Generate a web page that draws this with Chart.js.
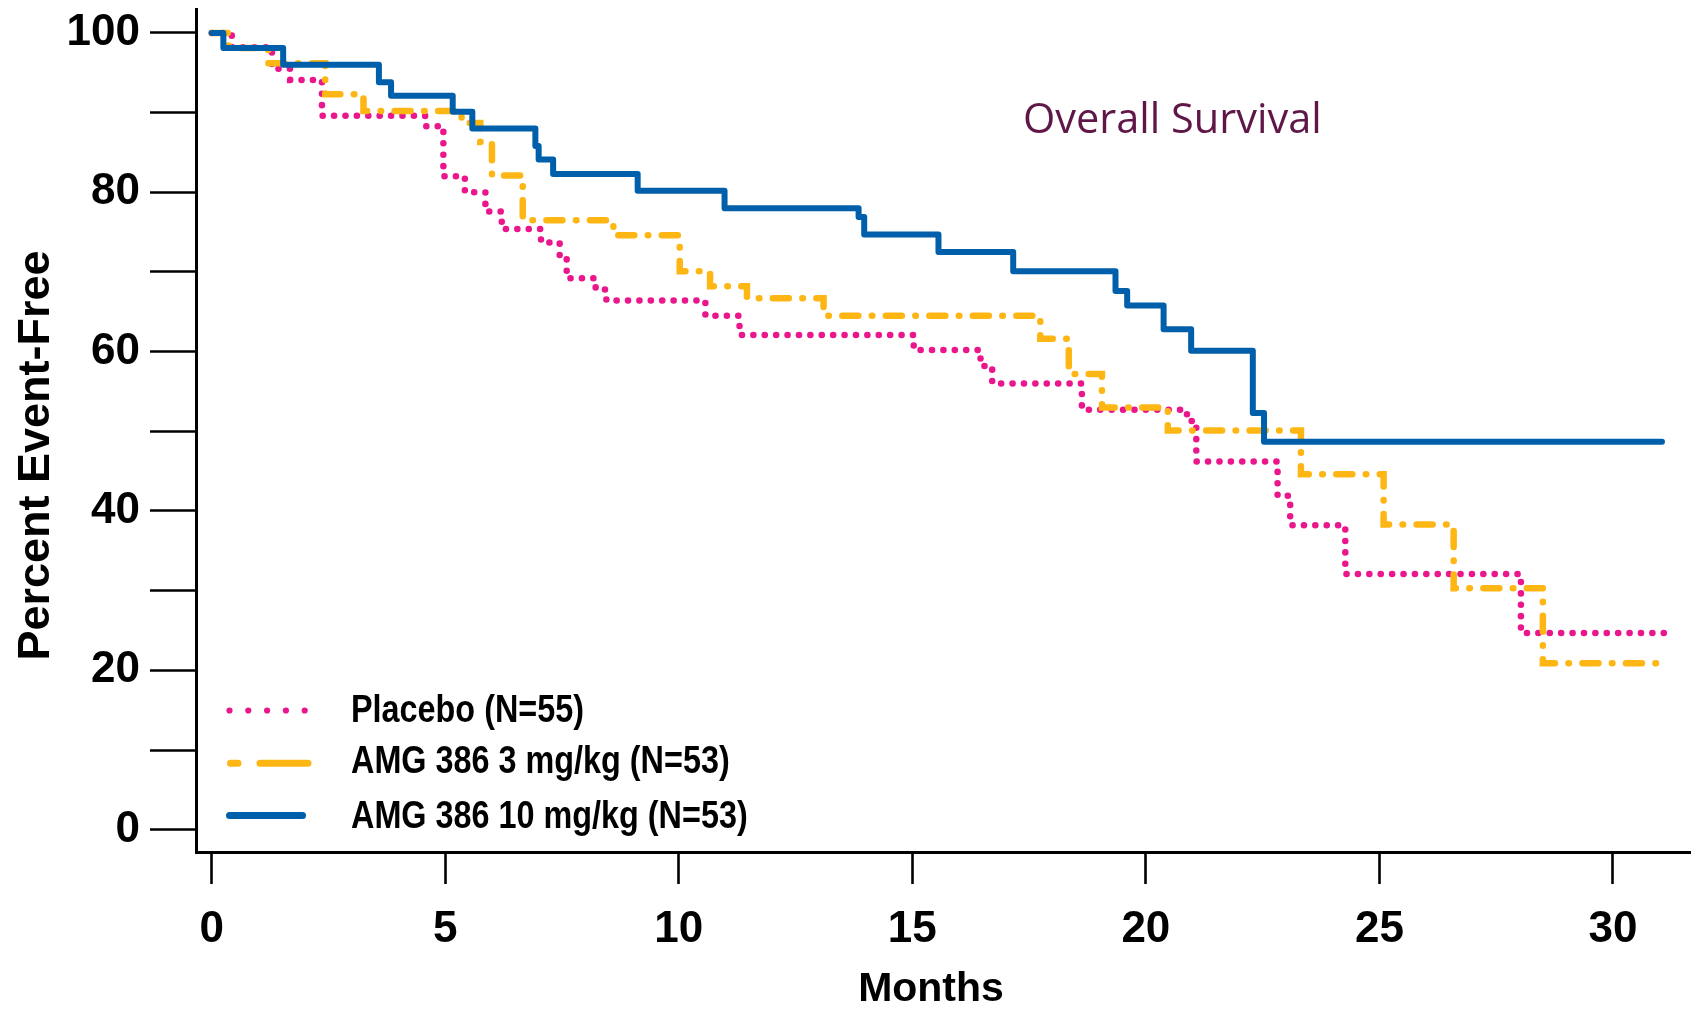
<!DOCTYPE html>
<html>
<head>
<meta charset="utf-8">
<script src="https://cdn.jsdelivr.net/npm/chart.js@4.4.1/dist/chart.umd.min.js"></script>
<style>
  html, body { margin: 0; padding: 0; background: #ffffff; }
  #wrap { width: 1697px; height: 1012px; }
</style>
</head>
<body>
<div id="wrap"><canvas id="c" width="1697" height="1012"></canvas></div>
<script>
// ---- Data (months, percent event-free) ----
const seriesNames = ['Placebo (N=55)', 'AMG 386 3 mg/kg (N=53)', 'AMG 386 10 mg/kg (N=53)'];

const placeboMonths = [0, 0.43, 1.29, 1.68, 2.36, 4.57, 4.96, 5.42, 5.86, 6.21, 7.05, 7.45, 7.6, 8.22, 8.45, 10.57, 11.3, 15.03, 16.46, 16.71, 18.63, 20.88, 21.08, 22.82, 23.09, 24.27, 28.03, 31.16];
const placeboPct    = [100, 98.2, 95.5, 94.1, 89.6, 88.3, 82.0, 80.0, 77.6, 75.4, 73.7, 71.6, 69.2, 67.8, 66.4, 64.5, 62.1, 60.2, 58.2, 56.0, 52.7, 51.3, 46.2, 41.9, 38.2, 32.1, 24.7, 24.7];

const amg3Months = [0, 0.36, 1.21, 2.43, 3.25, 5.35, 5.75, 6.0, 6.66, 8.6, 10.02, 10.67, 11.46, 13.1, 17.74, 18.35, 19.06, 20.47, 23.32, 25.09, 26.59, 28.5, 31.11];
const amg3Pct    = [100, 98.1, 96.2, 92.3, 90.2, 88.7, 86.3, 82.1, 76.5, 74.6, 70.1, 68.2, 66.7, 64.5, 61.6, 57.2, 53.0, 50.1, 44.6, 38.3, 30.3, 20.9, 20.9];

const amg10Months = [0, 0.25, 1.53, 3.58, 3.84, 5.16, 5.58, 6.93, 7.0, 7.31, 9.12, 10.98, 13.85, 13.97, 15.56, 17.16, 19.35, 19.6, 20.38, 20.97, 22.29, 22.53, 31.05];
const amg10Pct    = [100, 98.1, 96.0, 93.8, 92.1, 90.1, 88.0, 85.8, 84.1, 82.3, 80.2, 78.0, 76.9, 74.7, 72.5, 70.1, 67.6, 65.8, 62.8, 60.1, 52.3, 48.7, 48.7];

const xTickValues = [0, 5, 10, 15, 20, 25, 30];
const yTickValues = [0, 10, 20, 30, 40, 50, 60, 70, 80, 90, 100];
const yLabelledTicks = [0, 20, 40, 60, 80, 100];

const xTitle = 'Months';
const yTitle = 'Percent Event-Free';
const chartNote = 'Overall Survival';

// ---- styling ----
const PINK = '#ea168c';
const ORANGE = '#fdb614';
const BLUE = '#005fab';

function toPoints(xs, ys) { return xs.map((x, i) => ({ x: x, y: ys[i] })); }

const overlayPlugin = {
  id: 'overlay',
  afterDraw(chart) {
    const ctx = chart.ctx;
    ctx.save();
    // y axis title
    ctx.fillStyle = '#000';
    ctx.font = 'bold 45px "Liberation Sans", Arial, sans-serif';
    ctx.textAlign = 'center';
    ctx.textBaseline = 'alphabetic';
    ctx.save();
    ctx.translate(49, 455.5);
    ctx.rotate(-Math.PI / 2);
    ctx.fillText(yTitle, 0, 0);
    ctx.restore();
    // x axis title
    ctx.font = 'bold 41px "Liberation Sans", Arial, sans-serif';
    ctx.fillText(xTitle, 931, 1001);
    // note
    ctx.fillStyle = '#5e1747';
    ctx.font = '41.5px "Open Sans", sans-serif';
    ctx.textAlign = 'left';
    ctx.fillText(chartNote, 1023, 133);

    // legend
    const rows = [
      { y: 710.5, base: 721.7, kind: 'dot' },
      { y: 763.3, base: 773.3, kind: 'dash' },
      { y: 815.5, base: 828.3, kind: 'solid' }
    ];
    rows.forEach((r, i) => {
      ctx.lineCap = 'round';
      if (r.kind === 'dot') {
        ctx.fillStyle = PINK;
        for (let k = 0; k < 5; k++) {
          ctx.beginPath();
          ctx.arc(229.5 + k * 18.8, r.y, 3.1, 0, Math.PI * 2);
          ctx.fill();
        }
      } else if (r.kind === 'dash') {
        ctx.strokeStyle = ORANGE;
        ctx.lineWidth = 7;
        ctx.beginPath();
        ctx.moveTo(230.5, r.y); ctx.lineTo(238, r.y);
        ctx.moveTo(260, r.y); ctx.lineTo(308, r.y);
        ctx.stroke();
      } else {
        ctx.strokeStyle = BLUE;
        ctx.lineWidth = 7;
        ctx.beginPath();
        ctx.moveTo(229.5, r.y); ctx.lineTo(302.5, r.y);
        ctx.stroke();
      }
      ctx.fillStyle = '#000';
      ctx.font = 'bold 39px "Liberation Sans", Arial, sans-serif';
      ctx.textAlign = 'left';
      ctx.save();
      ctx.translate(351, r.base);
      ctx.scale(0.83, 1);
      ctx.fillText(seriesNames[i], 0, 0);
      ctx.restore();
    });
    ctx.restore();
  }
};

const tickFont = { family: '"Liberation Sans", Arial, sans-serif', size: 44, weight: 'bold' };

function noPad(s) { s.paddingTop = 0; s.paddingBottom = 0; s.paddingLeft = 0; s.paddingRight = 0; }

new Chart(document.getElementById('c'), {
  type: 'line',
  data: {
    datasets: [
      {
        label: seriesNames[0],
        data: toPoints(placeboMonths, placeboPct),
        borderColor: PINK,
        borderWidth: 6.5,
        borderDash: [0.1, 11.3],
        borderCapStyle: 'round',
        stepped: true,
        pointRadius: 0,
        fill: false,
        order: 2
      },
      {
        label: seriesNames[1],
        data: toPoints(amg3Months, amg3Pct),
        borderColor: ORANGE,
        borderWidth: 6.5,
        borderDash: [16, 13.5, 0.5, 13.5],
        borderCapStyle: 'round',
        stepped: true,
        pointRadius: 0,
        fill: false,
        order: 1
      },
      {
        label: seriesNames[2],
        data: toPoints(amg10Months, amg10Pct),
        borderColor: BLUE,
        borderWidth: 6,
        borderCapStyle: 'round',
        borderJoinStyle: 'round',
        stepped: true,
        pointRadius: 0,
        fill: false,
        order: 0
      }
    ]
  },
  options: {
    responsive: false,
    animation: false,
    devicePixelRatio: 1,
    layout: { padding: { top: 9, right: 7, left: 0, bottom: 0 } },
    plugins: {
      legend: { display: false },
      tooltip: { enabled: false },
      title: { display: false }
    },
    scales: {
      x: {
        type: 'linear',
        min: -0.336,
        max: 31.65,
        afterBuildTicks: (s) => { s.ticks = xTickValues.map(v => ({ value: v })); },
        afterFit: (s) => { s.height = 160; noPad(s); },
        ticks: {
          autoSkip: false,
          maxRotation: 0,
          color: '#000',
          font: tickFont,
          padding: 19
        },
        grid: {
          drawOnChartArea: false,
          drawTicks: true,
          tickLength: 32,
          tickWidth: 2.6,
          tickColor: '#000'
        },
        border: { display: true, color: '#000', width: 3 }
      },
      y: {
        type: 'linear',
        min: -2.8,
        max: 103,
        afterBuildTicks: (s) => { s.ticks = yTickValues.map(v => ({ value: v })); },
        afterFit: (s) => { s.width = 196; noPad(s); },
        ticks: {
          autoSkip: false,
          color: '#000',
          font: tickFont,
          padding: 10,
          callback: (v) => (yLabelledTicks.includes(v) ? String(v) : '')
        },
        grid: {
          drawOnChartArea: false,
          drawTicks: true,
          tickLength: 46,
          tickWidth: 2.6,
          tickColor: '#000'
        },
        border: { display: true, color: '#000', width: 3 }
      }
    }
  },
  plugins: [overlayPlugin]
});
</script>
</body>
</html>
